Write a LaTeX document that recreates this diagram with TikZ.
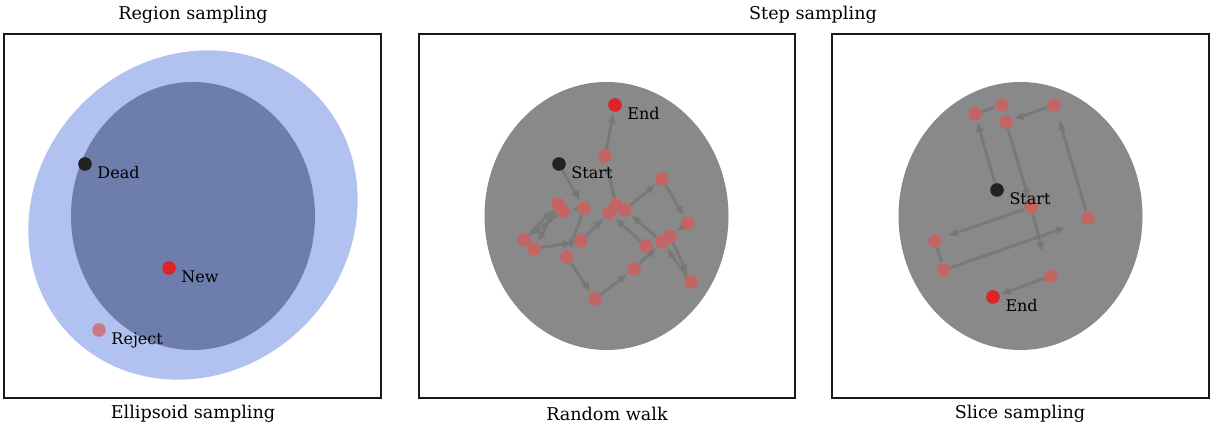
\documentclass[tikz,border=0pt]{standalone}
\usepackage{fontspec}
\setmainfont{DejaVu Serif}
\usetikzlibrary{arrows.meta,positioning}
\pgfdeclarelayer{background}
\pgfdeclarelayer{edges}
\pgfsetlayers{background,edges,main}
\definecolor{outerblue}{RGB}{177,194,241}
\definecolor{innerblue}{RGB}{109,126,173}
\definecolor{regiongray}{RGB}{137,137,137}
\definecolor{newred}{RGB}{222,36,40}
\definecolor{deadblack}{RGB}{34,34,34}
\definecolor{walkred}{RGB}{201,98,98}
\definecolor{rejectpink}{RGB}{200,122,132}
\definecolor{walkarrow}{RGB}{118,118,118}

\begin{document}
\begin{tikzpicture}[x=0.5pt,y=-0.5pt,
		dot/.style={circle,inner sep=0pt,minimum size=6.8pt},
		pinkdot/.style={dot,fill=walkred,fill opacity=0.9},
		lbl/.style={font=\fontsize{8}{9}\selectfont,inner sep=1pt},
		caption/.style={font=\fontsize{8.8}{10}\selectfont},
		panel/.style={draw=black!90,line width=1pt},
		walk/.style={draw=walkarrow,line width=1.5pt,draw opacity=0.8,fill opacity=0.8,-{Latex[length=5pt,width=4.6pt]},shorten >=0.5pt}]
				\useasboundingbox (0,0) rectangle (1210,431);
				
				\node[caption] (regiontitle) at (193,15) {Region sampling};
				\node[caption] (steptitle) at (813,15) {Step sampling};
				\node[caption] (ellipsoidcap) at (193,414) {Ellipsoid sampling};
				\node[caption] (walkcap) at (607,414) {Random walk};
				\node[caption] (slicecap) at (1020,414) {Slice sampling};
				
				\draw[panel] (4,34) rectangle (381,398);
				\draw[panel] (418.5,34) rectangle (795,398);
				\draw[panel] (832,34) rectangle (1208.5,398);
				
				\begin{pgfonlayer}{background}
					\fill[outerblue,rotate around={45:(193,215)}] (193,215) ellipse [x radius=86pt,y radius=78.5pt];
					\fill[innerblue] (193,216) ellipse [x radius=61pt,y radius=67pt];
					\fill[regiongray] (606.5,216) ellipse [x radius=61pt,y radius=67pt];
					\fill[regiongray] (1020.5,216) ellipse [x radius=61pt,y radius=67pt];
				\end{pgfonlayer}
				
				\node[dot,fill=deadblack] (dead) at (85,164) {};
				\node[dot,fill=newred] (new) at (169,268) {};
				\node[dot,fill=rejectpink] (reject) at (99,330) {};
				\node[lbl,below right=-2.5pt and 2.5pt of dead] (deadlabel) {Dead};
				\node[lbl,below right=-2.5pt and 2.5pt of new] (newlabel) {New};
				\node[lbl,below right=-2.5pt and 2.5pt of reject] (rejectlabel) {Reject};
				
				\node[pinkdot] (w1) at (605,156) {};
				\node[pinkdot] (w2) at (558,204) {};
				\node[pinkdot] (w3) at (563,211) {};
				\node[pinkdot] (w4) at (584,208) {};
				\node[pinkdot] (w5) at (616,205) {};
				\node[pinkdot] (w6) at (609,213) {};
				\node[pinkdot] (w7) at (625,210) {};
				\node[pinkdot] (w8) at (662,179) {};
				\node[pinkdot] (w9) at (688,223) {};
				\node[pinkdot] (w10) at (524,240) {};
				\node[pinkdot] (w11) at (534,249) {};
				\node[pinkdot] (w12) at (581,241) {};
				\node[pinkdot] (w13) at (567,257) {};
				\node[pinkdot] (w14) at (646,246) {};
				\node[pinkdot] (w15) at (662,242) {};
				\node[pinkdot] (w16) at (670,236) {};
				\node[pinkdot] (w17) at (595,299) {};
				\node[pinkdot] (w18) at (634,269) {};
				\node[pinkdot] (w19) at (691,282) {};
				\node[dot,fill=deadblack] (walkstart) at (559,164) {};
				\node[dot,fill=newred] (walkend) at (615,105) {};
				\node[lbl,below right=-2.5pt and 2.5pt of walkstart] (walkstartlabel) {Start};
				\node[lbl,below right=-2.5pt and 2.5pt of walkend] (walkendlabel) {End};
				
				\node[pinkdot] (s1) at (975,114) {};
				\node[pinkdot] (s2) at (1002,105) {};
				\node[pinkdot] (s3) at (1006,122) {};
				\node[pinkdot] (s4) at (1054,105) {};
				\node[pinkdot] (s5) at (1031,207) {};
				\node[pinkdot] (s6) at (1088,218) {};
				\node[pinkdot] (s7) at (935,241) {};
				\node[pinkdot] (s8) at (944,270) {};
				\node[pinkdot] (s9) at (1051,276) {};
				\node[dot,fill=deadblack] (slicestart) at (997,190) {};
				\node[dot,fill=newred] (sliceend) at (993,297) {};
				\node[lbl,below right=-2.5pt and 2.5pt of slicestart] (slicestartlabel) {Start};
				\node[lbl,below right=-2.5pt and 2.5pt of sliceend] (sliceendlabel) {End};
				\coordinate (lower) at (1043,253);
				\coordinate (left) at (947,236);
				\coordinate (right) at (1067,227);
				\coordinate (upper) at (1059,119);
				
				\begin{pgfonlayer}{edges}
					\draw[walk] (walkstart) -- (w4);
					\draw[walk] (w4) -- (w3);
					\draw[walk] (w3) -- (w10);
					\draw[walk] (w10) -- (w2);
					\draw[walk] (w2) -- (w11);
					\draw[walk] (w11) -- (w12);
					\draw[walk] (w12) -- (w6);
					\draw[walk] (w4) -- (w13);
					\draw[walk] (w13) -- (w17);
					\draw[walk] (w17) -- (w18);
					\draw[walk] (w18) -- (w15);
					\draw[walk] (w14) -- (w6);
					\draw[walk] (w15) -- (w7);
					\draw[walk] (w7) -- (w8);
					\draw[walk] (w8) -- (w9);
					\draw[walk] (w9) -- (w16);
					\draw[walk] (w16) -- (w19);
					\draw[walk] (w19) -- (w15);
					\draw[walk] (w5) -- (w1);
					\draw[walk] (w1) -- (walkend);
					
					\draw[walk] (slicestart) -- (s1);
					\draw[walk,-] (s1) -- (s2);
					\draw[walk] (s4) -- (s3);
					\draw[walk] (s3) -- (s5);
					\draw[walk] (s5) -- (lower);
					\draw[walk] (s5) -- (left);
					\draw[walk,-] (s7) -- (s8);
					\draw[walk] (s8) -- (right);
					\draw[walk] (s6) -- (upper);
					\draw[walk] (s9) -- (sliceend);
				\end{pgfonlayer}
			\end{tikzpicture}
\end{document}
